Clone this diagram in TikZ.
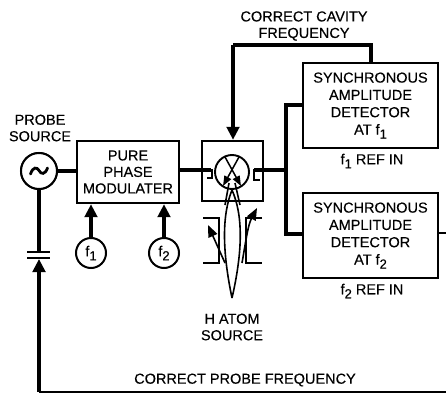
\documentclass[tikz,border=0pt]{standalone}
\usepackage{fontspec}
\setmainfont{Liberation Sans}
\newfontfamily\lblf[FakeBold=0.25]{Liberation Sans}
\usetikzlibrary{arrows.meta}
\newcommand{\lbl}{\lblf\fontsize{14.5}{16.5}\selectfont}
\newcommand{\lbs}{\lblf\fontsize{14.5}{17.3}\selectfont}
\newcommand{\dn}[1]{\raisebox{-4pt}{\fontsize{13}{13}\selectfont #1}}
\tikzset{
 x=1pt,y=-1pt,
 blockbox/.style={draw,line width=2.4pt,minimum width=#1,inner sep=0pt,align=center},
 round/.style={draw,circle,line width=2pt,inner sep=0pt,fill=white,font=\lbl},
 thick line/.style={line width=4pt},
 thin line/.style={line width=1.6pt},
 bigarrow/.style={line width=3.6pt,-{Triangle[length=13pt,width=12.5pt]}},
 smallarrow/.style={line width=1.6pt,-{Triangle[length=12pt,width=9.5pt]}},
 tinyarrow/.style={line width=1.5pt,-{Triangle[length=10pt,width=7.5pt]}},
 lab/.style={inner sep=0pt,align=center,font=\lbl},
}
\begin{document}
\begin{tikzpicture}
\useasboundingbox (0,0) rectangle (446,393);
% boxes
\node[blockbox=102pt,minimum height=62pt,font=\lbl] (mod) at (128,172) {PURE\\PHASE\\MODULATER};
\node[draw,line width=2.4pt,minimum width=61pt,minimum height=60pt,inner sep=0pt] (cav) at (232.5,171) {};
\node[blockbox=135pt,minimum height=85pt,font=\lbs] (d1) at (370.5,105.5) {SYNCHRONOUS\\AMPLITUDE\\DETECTOR\\AT f\dn{1}};
\node[blockbox=135pt,minimum height=85pt,font=\lbs] (d2) at (370.5,235.5) {SYNCHRONOUS\\AMPLITUDE\\DETECTOR\\AT f\dn{2}};
\node[round,minimum size=36pt] (osc) at (39,171) {};
\node[round,minimum size=30pt] (f1) at (91,253) {f\dn{1}};
\node[round,minimum size=30pt] (f2) at (164,253) {f\dn{2}};
% labels
\node[lab] (lp) at (40,128) {PROBE\\SOURCE};
\node[lab] (lc) at (304,26) {CORRECT CAVITY\\FREQUENCY};
\node[lab] (l1) at (372,161) {f\dn{1} REF IN};
\node[lab] (l2) at (372,291) {f\dn{2} REF IN};
\node[lab] (lh) at (232,327) {H ATOM\\SOURCE};
\node[lab] (lf) at (245,380) {CORRECT PROBE FREQUENCY};
% coordinates
\coordinate (busT) at (286,105);
\coordinate (busM) at (286,170);
\coordinate (busB) at (286,234);
\coordinate (cT) at (371,45);
\coordinate (cL) at (233,45);
\coordinate (capU) at (39,252);
\coordinate (capD) at (39,259);
\coordinate (rB) at (446,391.5);
\coordinate (lB) at (39,391.5);
\coordinate (rT) at (446,233);
\coordinate (cavIn) at (211,170);
\coordinate (cavOut) at (254,170);
% connectors
\draw[thick line] (osc) -- (mod.west |- osc);
\draw[thick line] (mod.east |- 0,170) -- (cavIn);
\draw[thick line] (cavOut) -- (busM);
\draw[thick line] (d1.west |- busT) -- (busT) -- (busB) -- (d2.west |- busB);
\draw[line width=2.4pt] (d2.east |- rT) -- (rT);
\draw[line width=2pt] (rB) -- (lB);
\draw[thick line] (osc) -- (capU);
\draw[bigarrow] (lB) -- (capD);
\draw[bigarrow] (f1) -- (f1 |- mod.south);
\draw[bigarrow] (f2) -- (f2 |- mod.south);
\draw[thick line] (d1.north -| cT) -- (cT) -- (cL);
\draw[bigarrow] (cL) -- (cL |- cav.north);
% redraw round nodes over their lines
\node[round,minimum size=36pt] at (osc) {};
% tilde in the oscillator
\draw[line width=2.8pt,line cap=round] (30.5,174) .. controls (33,166.5) and (37,167) .. (39,170.5) .. controls (41,174.5) and (45,175) .. (47.5,168);
% capacitor plates
\draw[line width=2.2pt] (27,252) -- (50,252) (27,258) -- (50,258);
% cavity couplings
\draw[line width=2pt] (212,169) -- (212,178) -- (207,178);
\draw[line width=2pt] (254,169) -- (254,180) -- (260,180);
% atom storage bulb
\node[draw,circle,line width=1.9pt,minimum size=34pt,inner sep=0pt] (bulb) at (232,172) {};
% beam
\coordinate (src) at (232,298);
\coordinate (foc) at (232,190);
\draw[thin line] (src) .. controls (222,250) and (222,215) .. (foc);
\draw[thin line] (src) .. controls (243,250) and (243,215) .. (foc);
\draw[tinyarrow] (239,157) -- (223,186);
\draw[tinyarrow] (225,157) -- (241,186);
\draw[thin line] (229,183) -- (225,205) (235,183) -- (240,205);
% state selector
\draw[thin line] (203,218) -- (219,218) -- (219,263) -- (203,263);
\draw[thin line] (262,218) -- (246,218) -- (246,263) -- (262,263);
\draw[smallarrow] (225,263) -- (208,225);
\draw[smallarrow] (242,263) .. controls (246,240) and (248,225) .. (257,208);
\end{tikzpicture}
\end{document}
